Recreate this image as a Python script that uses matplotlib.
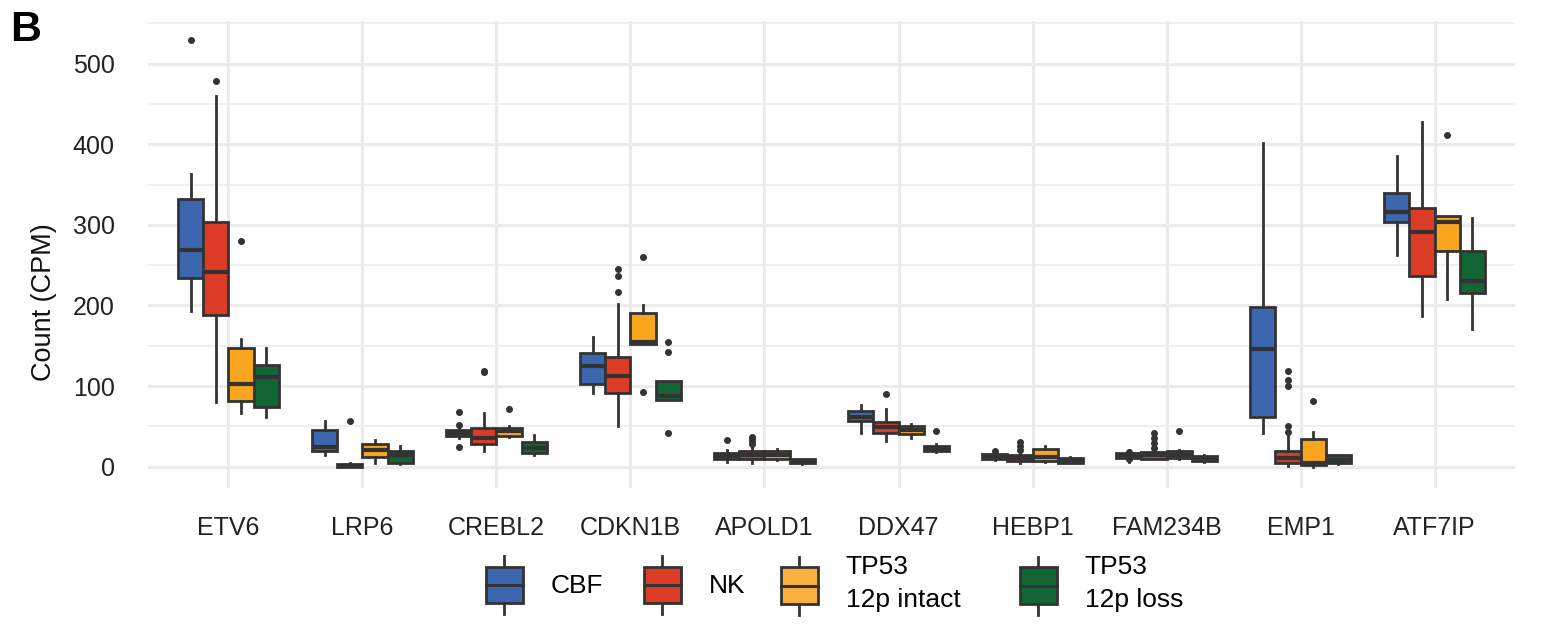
import matplotlib.pyplot as plt
from matplotlib.patches import Rectangle, Patch
from matplotlib.lines import Line2D
from matplotlib.legend_handler import HandlerBase

plt.rcParams['font.family'] = ['Liberation Sans', 'DejaVu Sans']

genes = ['ETV6', 'LRP6', 'CREBL2', 'CDKN1B', 'APOLD1', 'DDX47', 'HEBP1',
         'FAM234B', 'EMP1', 'ATF7IP']
groups = ['CBF', 'NK', 'TP53\n12p intact', 'TP53\n12p loss']
colors = ['#3C66B0', '#DC3B26', '#F9A61E', '#116633']
key_colors = ['#3C66B0', '#DC3B26', '#FBB040', '#116633']

# box statistics per group (one value per gene)
cbf_wlo = [193, 14, 36, 92, 6, 42, 8, 6, 42, 263]
cbf_q1 = [234, 20, 38, 102, 10, 57, 10, 11, 62, 303]
cbf_med = [269, 24, 42, 125, 13, 62, 13, 14, 146, 316]
cbf_q3 = [332, 45, 46, 141, 17, 69, 16, 17, 198, 339]
cbf_whi = [363, 57, 47, 161, 21, 77, 17, 21, 402, 386]
cbf_out = [[529], [], [68, 52, 24], [], [33], [], [19], [18, 9], [], []]

nk_wlo = [80, 0, 19, 50, 5, 32, 4, 9, 1, 187]
nk_q1 = [188, 0, 28, 92, 10, 42, 7, 10, 5, 237]
nk_med = [241, 1, 36, 113, 14, 49, 11, 14, 11, 291]
nk_q3 = [303, 3, 48, 136, 19, 56, 15, 18, 20, 321]
nk_whi = [460, 4, 66, 202, 23, 71, 18, 21, 38, 428]
nk_out = [[479], [57], [119, 117], [245, 236, 217], [37, 35, 32, 28], [90],
          [31, 25, 21], [42, 35, 29, 23], [119, 107, 100, 51, 43], []]

int_wlo = [67, 4, 37, 152, 8, 36, 6, 9, 0, 208]
int_q1 = [82, 12, 38, 152, 10, 40, 7, 11, 2, 268]
int_med = [103, 21, 44, 155, 14, 45, 12, 15, 5, 303]
int_q3 = [147, 28, 48, 191, 19, 51, 22, 19, 34, 311]
int_whi = [158, 33, 50, 201, 22, 53, 25, 21, 43, 311]
int_out = [[280], [], [72], [260, 93], [], [], [], [44], [81], [412]]

loss_wlo = [61, 3, 15, 83, 3, 18, 4, 6, 3, 171]
loss_q1 = [74, 5, 17, 83, 4, 19, 5, 7, 4, 215]
loss_med = [111, 15, 23, 88, 6, 23, 8, 10, 8, 230]
loss_q3 = [126, 20, 30, 106, 9, 26, 11, 13, 14, 267]
loss_whi = [147, 26, 39, 106, 10, 28, 12, 14, 15, 308]
loss_out = [[], [], [], [155, 142, 42], [], [44], [], [], [], []]

yticks = [0, 100, 200, 300, 400, 500]

series = [
    (cbf_wlo, cbf_q1, cbf_med, cbf_q3, cbf_whi, cbf_out),
    (nk_wlo, nk_q1, nk_med, nk_q3, nk_whi, nk_out),
    (int_wlo, int_q1, int_med, int_q3, int_whi, int_out),
    (loss_wlo, loss_q1, loss_med, loss_q3, loss_whi, loss_out),
]

edge = '#333333'
W, H = 1542, 624
fig = plt.figure(figsize=(W / 100, H / 100), dpi=100)
ax = fig.add_axes([148 / W, 1 - 488 / H, (1515 - 148) / W, (488 - 21) / H])

bw = 0.75 / 4
for k, (wlo, q1, med, q3, whi, out) in enumerate(series):
    stats = []
    for i in range(len(genes)):
        stats.append(dict(whislo=wlo[i], q1=q1[i], med=med[i], q3=q3[i],
                          whishi=whi[i], fliers=out[i]))
    pos = [i + 1 + (k - 1.5) * bw for i in range(len(genes))]
    ax.bxp(stats, positions=pos, widths=bw, patch_artist=True,
           showcaps=False, manage_ticks=False,
           boxprops=dict(facecolor=colors[k], edgecolor=edge, linewidth=2.0),
           medianprops=dict(color=edge, linewidth=3.0, solid_capstyle='butt'),
           whiskerprops=dict(color=edge, linewidth=2.0),
           flierprops=dict(marker='o', markersize=4, markerfacecolor=edge,
                           markeredgecolor=edge))

ax.set_xlim(0.4, len(genes) + 0.6)
ax.set_ylim(-26.5, 553)
ax.set_xticks(range(1, len(genes) + 1))
ax.set_xticklabels(genes)
ax.set_yticks(yticks)
ax.set_yticks([50, 150, 250, 350, 450, 550], minor=True)
ax.grid(True, which='major', color='#EBEBEB', linewidth=2.2)
ax.grid(True, which='minor', axis='y', color='#EBEBEB', linewidth=1.1)
ax.set_axisbelow(True)
for s in ax.spines.values():
    s.set_visible(False)
ax.tick_params(axis='both', which='both', length=0, labelsize=18, labelcolor='#222222')
ax.tick_params(axis='y', pad=24)
ax.tick_params(axis='x', pad=20)

fig.text(44 / W, 1 - 302 / H, 'Count (CPM)', rotation=90, fontsize=19.5,
         ha='center', va='center', color='#111111')
fig.text(10 / W, 1 - 10 / H, 'B', fontsize=31, fontweight='bold',
         ha='left', va='top')


class BoxHandler(HandlerBase):
    def create_artists(self, legend, orig_handle, xdescent, ydescent,
                       width, height, fontsize, trans):
        fc = orig_handle.get_facecolor()
        cx = width / 2 - xdescent
        bh = height * 0.63
        y0 = -ydescent + (height - bh) / 2
        box = Rectangle((-xdescent, y0), width, bh, facecolor=fc,
                        edgecolor=edge, linewidth=2.0, transform=trans)
        midy = -ydescent + height / 2
        med = Line2D([-xdescent, width - xdescent], [midy, midy], color=edge,
                     linewidth=2.2, transform=trans)
        w1 = Line2D([cx, cx], [-ydescent, y0], color=edge, linewidth=2.0,
                    transform=trans)
        w2 = Line2D([cx, cx], [y0 + bh, height - ydescent], color=edge,
                    linewidth=2.0, transform=trans)
        return [w1, w2, box, med]


# one legend entry per group, keys placed where the reference has them
key_left = [486, 644, 781, 1020]
for c, lab, x in zip(key_colors, groups, key_left):
    leg = fig.legend([Patch(facecolor=c)], [lab],
                     handler_map={Patch: BoxHandler()},
                     loc='center left', bbox_to_anchor=(x / W, 1 - 585 / H),
                     frameon=False, fontsize=19, handlelength=1.4,
                     handleheight=3.0, handletextpad=1.05,
                     borderpad=0, borderaxespad=0)
    for t in leg.get_texts():
        t.set_linespacing(1.45)

plt.savefig('out.png', dpi=100)
